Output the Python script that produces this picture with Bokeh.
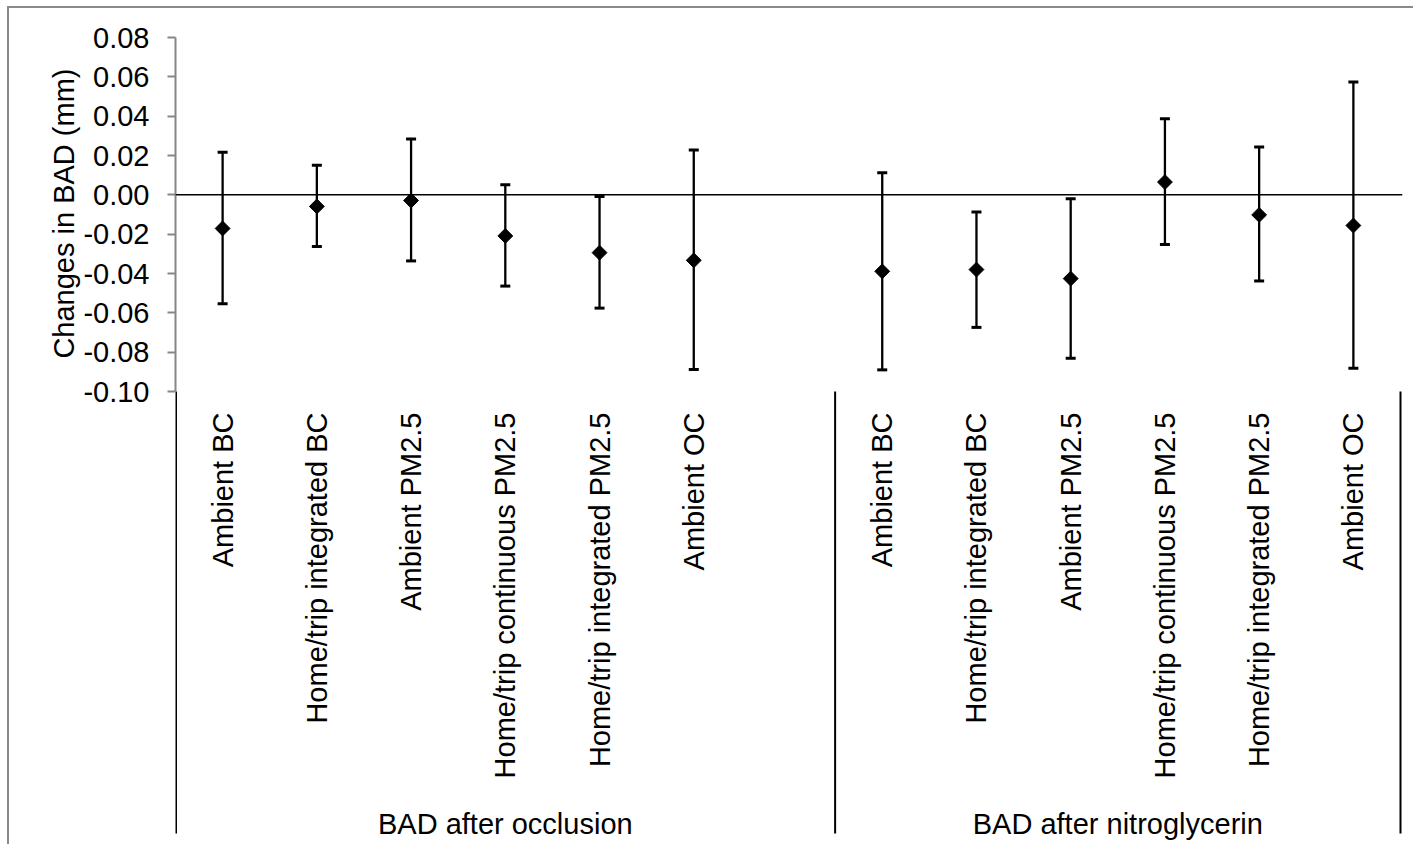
import math
from bokeh.plotting import figure
from bokeh.models import Range1d, FixedTicker, PrintfTickFormatter, Span, Div, Spacer, Title
from bokeh.layouts import column, row
from bokeh.core.properties import value
from bokeh.embed import file_html
from bokeh.resources import INLINE

# ---------------- data ----------------
groups = ["BAD after occlusion", "BAD after nitroglycerin"]
categories = ["Ambient BC", "Home/trip integrated BC", "Ambient PM2.5",
              "Home/trip continuous PM2.5", "Home/trip integrated PM2.5", "Ambient OC"]
occl_est = [-0.0171, -0.0059, -0.0029, -0.0209, -0.0294, -0.0333]
occl_low = [-0.0554, -0.0263, -0.0336, -0.0464, -0.0576, -0.0888]
occl_high = [0.0216, 0.0151, 0.0284, 0.0051, -0.0009, 0.0228]
nitro_est = [-0.0389, -0.0380, -0.0426, 0.0065, -0.0102, -0.0156]
nitro_low = [-0.0890, -0.0674, -0.0831, -0.0253, -0.0438, -0.0882]
nitro_high = [0.0112, -0.0087, -0.0020, 0.0387, 0.0243, 0.0574]
y_ticks = [-0.10, -0.08, -0.06, -0.04, -0.02, 0.00, 0.02, 0.04, 0.06, 0.08]
y_title = "Changes in BAD (mm)"

# ---------------- geometry ----------------
FONT = "Liberation Sans"
FS = "29px"
OX, OY = 9, 8                 # canvas origin on the page
W, H = 1404, 836
F_LEFT, F_RIGHT, F_TOP, F_BOTTOM = 175, 1402, 37, 844
Y_MIN, Y_MAX = y_ticks[0], y_ticks[-1]
AXIS_BOTTOM_PAGE = 391
TITLE_TOP_PAGE = 68
yppx = (Y_MAX - Y_MIN) / (AXIS_BOTTOM_PAGE - F_TOP)

def ydata(page_y):
    return Y_MAX - (page_y - F_TOP) * yppx

n = len(categories)
n_slots = 2 * n + 1
slot_px = (1400 - F_LEFT) / n_slots
x_end = n_slots + (F_RIGHT - 1400) / slot_px

x1 = [i + 0.5 for i in range(n)]
x2 = [n + 1 + i + 0.5 for i in range(n)]
xs = x1 + x2
est = occl_est + nitro_est
low = occl_low + nitro_low
high = occl_high + nitro_high
labels = categories + categories
seps = [0, n + 1, n_slots]
group_centers = [(seps[0] + seps[1]) / 2, (seps[1] + seps[2]) / 2]

p = figure(width=W, height=H, output_backend="svg", toolbar_location=None,
           x_range=Range1d(0, x_end), y_range=Range1d(ydata(F_BOTTOM), Y_MAX),
           x_axis_location=None,
           min_border_left=F_LEFT - OX, min_border_right=W - (F_RIGHT - OX),
           min_border_top=F_TOP - OY, min_border_bottom=0)
p.xgrid.visible = False
p.ygrid.visible = False
p.outline_line_color = None
p.background_fill_color = "white"
p.border_fill_color = "white"

ax = p.yaxis[0]
ax.bounds = (Y_MIN, Y_MAX)
ax.ticker = FixedTicker(ticks=y_ticks)
ax.formatter = PrintfTickFormatter(format="%.2f")
ax.axis_line_color = "#868686"
ax.axis_line_width = 2
ax.major_tick_line_color = "#868686"
ax.major_tick_line_width = 2
ax.major_tick_out = 8
ax.major_tick_in = 0
ax.minor_tick_line_color = None
ax.major_label_text_font = FONT
ax.major_label_text_font_size = FS
ax.major_label_text_color = "black"
ax.major_label_standoff = 18

# y-axis title, placed along the value axis (not the whole frame)
ttl = Title(text=y_title, align="right", offset=TITLE_TOP_PAGE - F_TOP,
            text_font=FONT, text_font_size=FS, text_font_style="normal",
            text_color="black", standoff=2)
p.add_layout(ttl, "left")

# zero line
p.add_layout(Span(location=0, dimension="width", line_color="black", line_width=1.5))

# separators below the axis
p.segment(x0=seps, y0=[Y_MIN] * 3, x1=seps, y1=[ydata(833)] * 3,
          line_color="black", line_width=[3, 2, 2])

# error bars
p.segment(x0=xs, y0=low, x1=xs, y1=high, line_color="black", line_width=2.3)
p.scatter(xs + xs, low + high, marker="dash", size=10, line_color="black", line_width=3)
p.scatter(xs, est, marker="square", angle=math.pi / 4, size=10.5,
          fill_color="black", line_color="black")

# category labels
p.text(x=xs, y=[ydata(412)] * len(xs), text=labels, angle=math.pi / 2,
       text_align="right", text_baseline="middle",
       text_font=value(FONT), text_font_size=FS, text_color="black")
# group labels
p.text(x=group_centers, y=[ydata(823)] * 2, text=groups,
       text_align="center", text_baseline="alphabetic",
       text_font=value(FONT), text_font_size=FS, text_color="black")

GREY = "#898989"
top_line = Div(text="", width=1413 - 7, height=2, margin=0,
               styles={"background-color": GREY})
left_line = Div(text="", width=2, height=H, margin=0,
                styles={"background-color": GREY})
inner = column(top_line, row(left_line, p, spacing=0), spacing=0)
layout = column(Spacer(width=1413, height=6, margin=0),
                row(Spacer(width=7, height=H + 2, margin=0), inner, spacing=0),
                spacing=0)

open("out.html", "w").write(file_html(layout, INLINE))
